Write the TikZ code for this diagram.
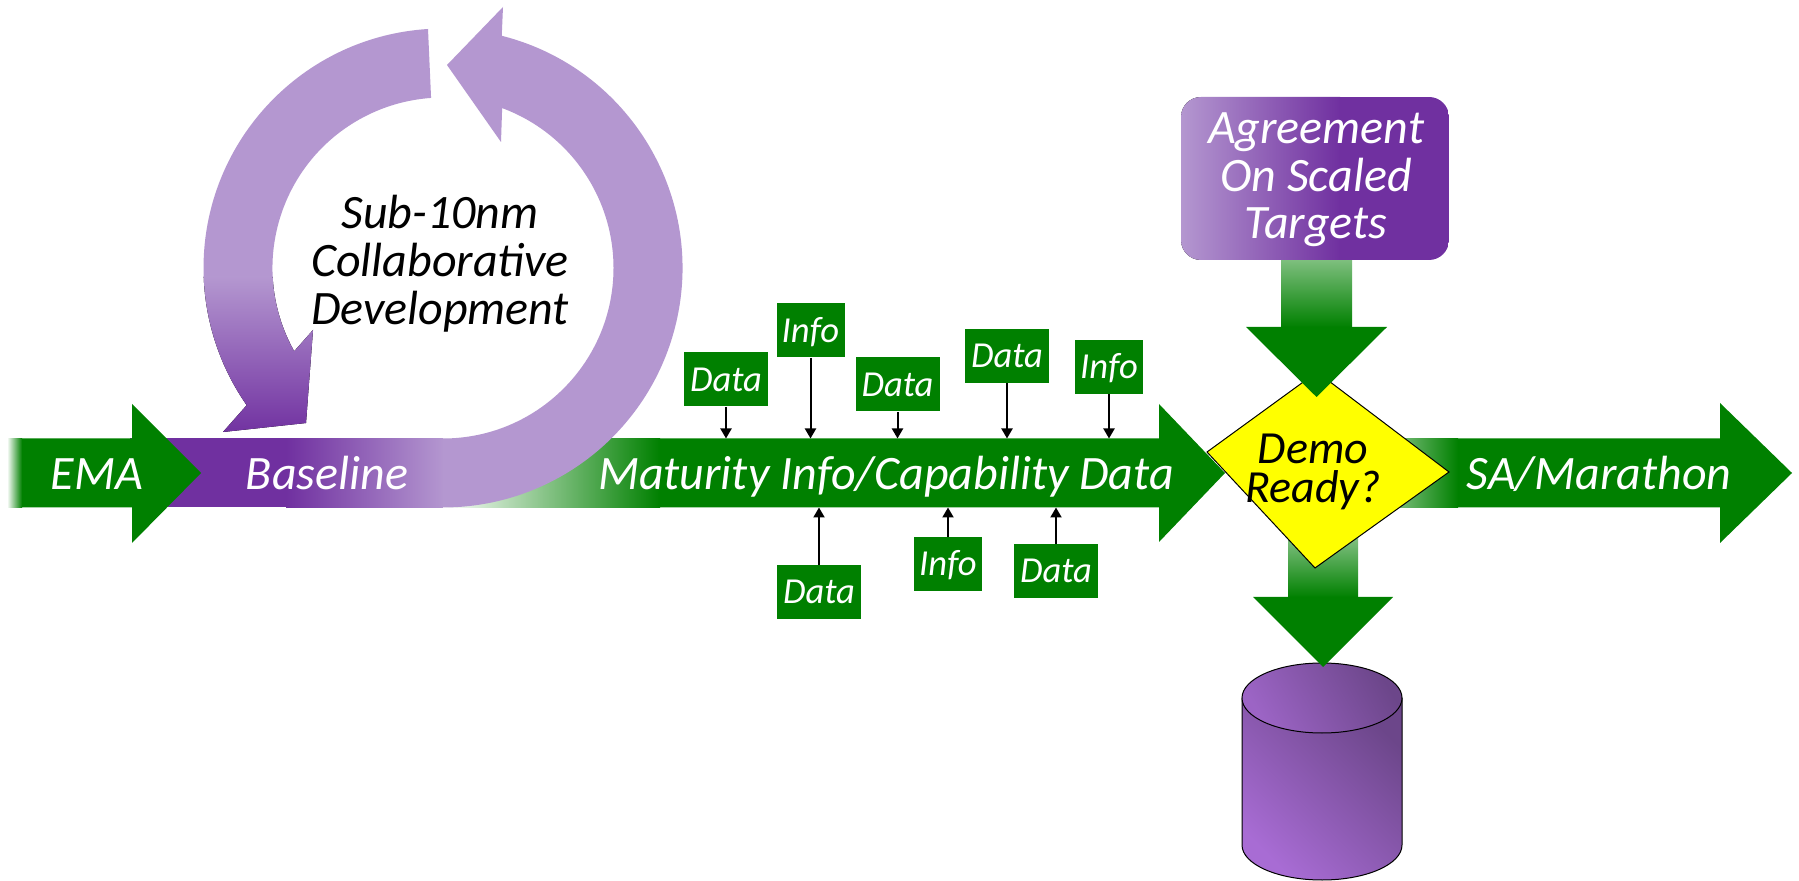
\documentclass[tikz,border=0pt]{standalone}
\usepackage{fontspec}
\setmainfont{Carlito}
\usetikzlibrary{arrows.meta}
\definecolor{grn}{RGB}{0,128,0}
\definecolor{dkp}{RGB}{112,48,160}
\definecolor{ltp}{RGB}{180,151,208}
\definecolor{cylL}{RGB}{168,108,212}
\definecolor{cylD}{RGB}{108,70,138}
\definecolor{yel}{RGB}{255,255,0}
\begin{document}
\begin{tikzpicture}[x=0.5pt,y=-0.5pt,
  bigtxt/.style={font=\fontsize{24}{24}\selectfont\itshape, inner sep=0pt},
  whitetxt/.style={bigtxt,text=white},
  dbox/.style={fill=grn,text=white,font=\fontsize{18.3}{19}\selectfont\itshape,minimum width=42pt,minimum height=27pt,inner sep=0pt,text height=11.8pt,text depth=0pt},
  ibox/.style={dbox,minimum width=34pt},
  sarr/.style={line width=1pt,-{Triangle[length=5pt,width=5.5pt]}},
  outl/.style={draw=black,line width=0.5pt},
]
\fill[white] (0,0) rectangle (1799,881);
\useasboundingbox (0,0) rectangle (1799,881);
\coordinate (btop) at (0,438.5);
\coordinate (bbot) at (0,507.5);

% SA/Marathon arrow (behind diamond)
\fill[grn] (1330,438.5) -- (1720,438.5) -- (1720,403) -- (1792,473) -- (1720,543) -- (1720,507.5) -- (1330,507.5) -- cycle;
\fill[left color=white,right color=grn] (1330,438.5) rectangle (1458,507.5);
% lower down arrow to cylinder
\fill[top color=white,bottom color=grn] (1288,480) rectangle (1358,597.5);
% cylinder
\draw[outl,top color=cylD,bottom color=cylL,shading angle=-45] (1242,698) -- (1242,845) arc[start angle=180,end angle=0,x radius=80,y radius=35] -- (1402,698) -- cycle;
\draw[outl,top color=cylD,bottom color=cylL!80!cylD,shading angle=-60] (1322,698) ellipse[x radius=80,y radius=35];
\fill[grn] (1253,597) -- (1393,597) -- (1323,667) -- cycle;
% diamond
\draw[outl,fill=yel] (1317,372) -- (1449,472) -- (1315,568) -- (1207,452) -- cycle;
\node[bigtxt,align=center,font=\fontsize{23}{19.5}\selectfont\itshape] (demo) at (1313,472) {Demo\\Ready?};

% purple band
\fill[dkp] (130,438.5) rectangle (287,507.5);
\fill[left color=dkp,right color=ltp] (286,438.5) rectangle (444,507.5);
% maturity arrow
\fill[grn] (443,438.5) -- (1159,438.5) -- (1159,404) -- (1225,473) -- (1159,542) -- (1159,507.5) -- (443,507.5) -- cycle;
\fill[left color=white,right color=grn] (443,438.5) rectangle (660,507.5);
% right arc (continuation of band)
\fill[ltp] (443,438.5) arc[start angle=90,end angle=-69.7,radius=170.5] -- (501,142) -- (447,65) -- (503,7) -- (501.75,35.8) arc[start angle=-75.8,end angle=90,radius=239.5] -- cycle;
% left arc
\fill[ltp] (428,29) arc[start angle=266.4,end angle=145.05,radius=239.5] -- (223,432) -- (306,423) -- (313,330) -- (294.2,351.3) arc[start angle=150.76,end angle=266,radius=170.5] -- cycle;
\begin{scope}
\clip (428,29) arc[start angle=266.4,end angle=145.05,radius=239.5] -- (223,432) -- (306,423) -- (313,330) -- (294.2,351.3) arc[start angle=150.76,end angle=266,radius=170.5] -- cycle;
\fill[top color=ltp,bottom color=dkp] (200,277) rectangle (330,436);
\end{scope}
% EMA arrow
\fill[grn] (7,438.5) -- (132,438.5) -- (132,404) -- (201,473) -- (132,543) -- (132,507.5) -- (7,507.5) -- cycle;
\fill[left color=white,right color=grn] (7,438.5) rectangle (22,507.5);

% upper down arrow and agreement box
\fill[top color=grn!50!white,bottom color=grn] (1281,259) rectangle (1352,327.5);
\fill[grn] (1246,327) -- (1387,327) -- (1316.5,397) -- cycle;
\begin{scope}
\clip[rounded corners=10pt] (1181,97) rectangle (1449,260);
\fill[left color=ltp,right color=dkp] (1181,97) rectangle (1340,260);
\fill[dkp] (1339,97) rectangle (1449,260);
\end{scope}
\node[whitetxt,align=center,font=\fontsize{24}{23.75}\selectfont\itshape] (agree) at (1316,180) {Agreement\\On Scaled\\Targets};

% texts
\node[bigtxt,align=center] (sub) at (440,264) {Sub-10nm\\Collaborative\\Development};
\node[whitetxt,anchor=base] (ema) at (97,490) {EMA};
\node[whitetxt,anchor=base] (base) at (327,490) {Baseline};
\node[whitetxt,anchor=base] (mat) at (886,490) {Maturity Info/Capability Data};
\node[whitetxt,anchor=base] (sa) at (1599,490) {SA/Marathon};

% data / info boxes
\node[dbox] (d1) at (726,379.5) {Data};
\node[ibox] (i1) at (810.5,330.5) {Info};
\node[dbox] (d2) at (897.5,384.5) {Data};
\node[dbox] (d3) at (1007,356) {Data};
\node[ibox] (i2) at (1109,367) {Info};
\node[dbox] (d4) at (819,592) {Data};
\node[ibox] (i3) at (948,564) {Info};
\node[dbox] (d5) at (1056,571) {Data};
\foreach \n in {d1,i1,d2,d3,i2}{\draw[sarr] (\n.south) -- (\n.south |- btop);}
\foreach \n in {d4,i3,d5}{\draw[sarr] (\n.north) -- (\n.north |- bbot);}
\end{tikzpicture}
\end{document}
